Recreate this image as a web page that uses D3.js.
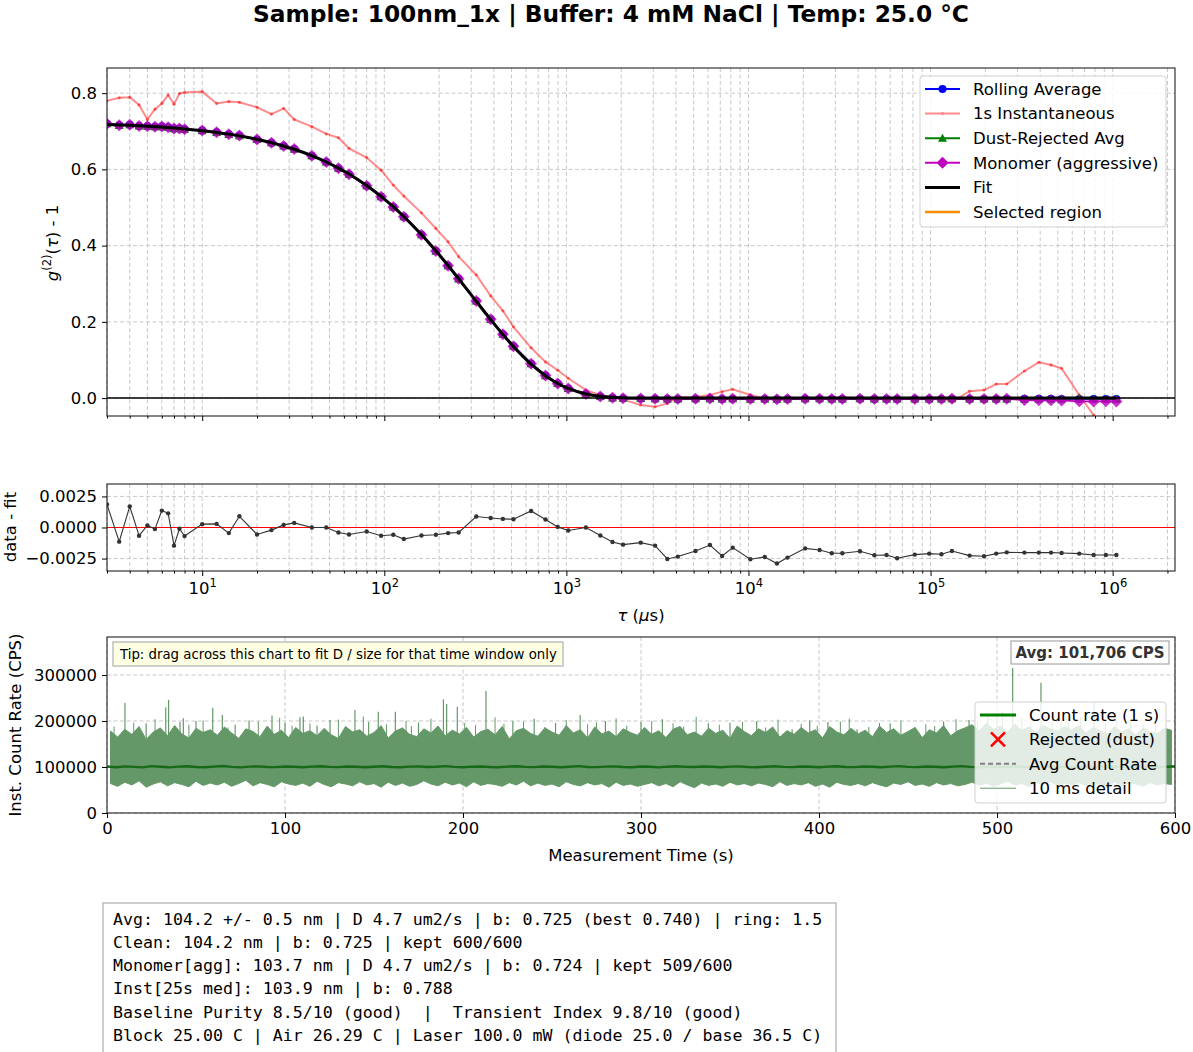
<!DOCTYPE html>
<html>
<head>
<meta charset="utf-8">
<script src="https://cdn.jsdelivr.net/npm/d3@7"></script>
<style>
body { margin: 0; background: #fff; }
</style>
</head>
<body>
<div id="chart"></div>
<script>
// ---- correlation data (lag times in microseconds) ----
var tau = [3,3.5,4,4.5,5,5.5,6,6.5,7,7.5,8,
  10,12,14,16, 20,24,28,32, 40,48,56,64, 80,96,112,128,
  160,192,224,256, 320,384,448,512, 640,768,896,1024,
  1280,1536,1792,2048, 2560,3072,3584,4096, 5120,6144,7168,8192,
  10240,12288,14336,16384, 20480,24576,28672,32768, 40960,49152,57344,65536,
  81920,98304,114688,131072, 163840,196608,229376,262144,
  327680,393216,458752,524288, 655360,786432,917504,1048576];

var fitVals = [0.7179,0.7167,0.7156,0.7144,0.7132,0.7120,0.7109,0.7097,0.7086,0.7074,0.7062,
  0.7016,0.6970,0.6925,0.6879, 0.6790,0.6701,0.6614,0.6528, 0.6359,0.6194,0.6034,0.5878, 0.5577,0.5292,0.5022,0.4765,
  0.4291,0.3863,0.3479,0.3132, 0.2539,0.2058,0.1669,0.1353, 0.0889,0.0585,0.0384,0.0253,
  0.0109,0.0047,0.0020,0.0009, 0.0002,0,0,0, 0,0,0,0, 0,0,0,0, 0,0,0,0, 0,0,0,0, 0,0,0,0, 0,0,0,0, 0,0,0,0, 0,0,0,0];

var rollingAvg = [0.7198,0.7156,0.7173,0.7137,0.7134,0.7119,0.7123,0.7108,0.7071,0.7073,0.7055,
  0.7019,0.6973,0.6920,0.6888, 0.6784,0.6699,0.6616,0.6532, 0.6359,0.6194,0.6030,0.5872, 0.5574,0.5285,0.5016,0.4756,
  0.4285,0.3857,0.3474,0.3128, 0.2548,0.2066,0.1676,0.1360, 0.0902,0.0591,0.0385,0.0251,
  0.0109,0.0041,0.0008,-0.0005, -0.0010,-0.0015,-0.0025,-0.0023, -0.0019,-0.0014,-0.0023,-0.0016,
  -0.0026,-0.0024,-0.0029,-0.0024, -0.0017,-0.0018,-0.0021,-0.0021, -0.0019,-0.0022,-0.0022,-0.0025,
  -0.0022,-0.0021,-0.0022,-0.0019, -0.0023,-0.0023,-0.0021,-0.0020, -0.0020,-0.0020,-0.0020,-0.0021, -0.0021,-0.0022,-0.0022,-0.0022];

var dustRejected = [0.7197,0.7157,0.7172,0.7138,0.7133,0.7120,0.7122,0.7108,0.7072,0.7073,0.7056,
  0.7019,0.6972,0.6921,0.6887, 0.6784,0.6700,0.6616,0.6531, 0.6359,0.6194,0.6031,0.5872, 0.5574,0.5286,0.5016,0.4757,
  0.4285,0.3857,0.3474,0.3128, 0.2547,0.2066,0.1676,0.1361, 0.0902,0.0591,0.0385,0.0251,
  0.0108,0.0041,0.0008,-0.0004, -0.0010,-0.0014,-0.0024,-0.0022, -0.0018,-0.0013,-0.0022,-0.0015,
  -0.0025,-0.0023,-0.0028,-0.0023, -0.0016,-0.0017,-0.0020,-0.0020, -0.0018,-0.0021,-0.0021,-0.0024,
  -0.0021,-0.0020,-0.0021,-0.0018, -0.0022,-0.0022,-0.0020,-0.0019, -0.0019,-0.0019,-0.0019,-0.0020, 0.0004,-0.0021,-0.0021,-0.0021];

var monomerAgg = [0.7198,0.7156,0.7173,0.7137,0.7134,0.7119,0.7123,0.7108,0.7071,0.7073,0.7055,
  0.7019,0.6973,0.6920,0.6888, 0.6784,0.6699,0.6616,0.6532, 0.6359,0.6194,0.6030,0.5872, 0.5574,0.5285,0.5016,0.4756,
  0.4285,0.3857,0.3474,0.3128, 0.2548,0.2066,0.1676,0.1360, 0.0902,0.0591,0.0385,0.0251,
  0.0109,0.0041,0.0008,-0.0005, -0.0010,-0.0015,-0.0025,-0.0023, -0.0019,-0.0014,-0.0023,-0.0016,
  -0.0026,-0.0024,-0.0029,-0.0024, -0.0017,-0.0018,-0.0021,-0.0021, -0.0019,-0.0022,-0.0022,-0.0025,
  -0.0022,-0.0021,-0.0022,-0.0019, -0.0023,-0.0023,-0.0021,-0.0020, -0.0050,-0.0060,-0.0058,-0.0062, -0.0085,-0.0088,-0.0086,-0.0087];

var instant1s = [0.780,0.788,0.789,0.769,0.731,0.758,0.773,0.795,0.771,0.799,0.802,
  0.804,0.773,0.778,0.776, 0.763,0.745,0.760,0.731, 0.712,0.693,0.683,0.655, 0.631,0.598,0.559,0.530,
  0.486,0.445,0.410,0.371, 0.323,0.268,0.229,0.187, 0.132,0.095,0.073,0.052,
  0.021,0.008,0.002,-0.004, -0.018,-0.023,-0.014,0.002, 0.003,0.008,0.017,0.023,
  0.008,-0.001,-0.005,-0.003, 0.001,-0.002,0.000,0.002, -0.001,0.001,-0.003,0.000,
  -0.002,0.001,0.002,-0.010, 0.018,0.021,0.037,0.037, 0.071,0.094,0.087,0.078, 0.008,-0.045,-0.100,-0.140];

var residuals = [0.00186,-0.00114,0.0017,-0.00066,0.00016,-0.00013,0.00136,0.00114,-0.00146,-0.0001,-0.00069,
  0.00027,0.00029,-0.00045,0.0009, -0.00056,-0.00021,0.00021,0.00037, 0,0,-0.0004,-0.00056,
  -0.00032,-0.00066,-0.00058,-0.00093, -0.00064,-0.00058,-0.00045,-0.0004, 0.00088,0.00077,0.00069,0.00066,
  0.00133,0.00064,0.00005,-0.00024, 0,-0.00064,-0.00117,-0.00138, -0.00122,-0.00146,-0.00253,-0.00234,
  -0.00189,-0.00141,-0.00229,-0.00162, -0.00255,-0.00237,-0.0029,-0.00242, -0.00168,-0.00181,-0.00207,-0.00207,
  -0.00191,-0.00223,-0.00221,-0.00247, -0.00218,-0.0021,-0.00215,-0.00189, -0.00226,-0.00231,-0.0021,-0.002,
  -0.00202,-0.00202,-0.00202,-0.00205, -0.0021,-0.00221,-0.00221,-0.00221];

// ---- count rate data ----
var rateTime = d3.range(0, 601, 5);   // seconds, one value per 5 s
var rate1s = [100800, 99600, 101300, 100200, 99100, 101800, 100400, 99300, 100900, 101500,
  100100, 99500, 100700, 102100, 100300, 99200, 100800, 101400, 100000, 99700,
  101100, 100500, 99400, 100900, 101700, 100200, 99800, 101000, 100600, 99300,
  100400, 101600, 100100, 99600, 100800, 101300, 99900, 100500, 101900, 100300,
  99500, 100700, 101200, 100000, 99400, 100900, 101500, 100200, 99800, 101100,
  100600, 99300, 100400, 101800, 100100, 99700, 100800, 101400, 100000, 99500,
  101000, 100500, 99200, 100700, 101600, 100300, 99900, 101200, 100400, 99600,
  100900, 101300, 100100, 99400, 100600, 101700, 100200, 99800, 101000, 100500,
  99300, 100800, 101500, 100000, 99700, 101100, 100400, 99500, 100900, 102000,
  100300, 99800, 101200, 100600, 99400, 100700, 101800, 100200, 99600, 101000,
  100500, 99900, 101400, 100100, 99500, 100800, 101300, 100300, 99700, 101100,
  100600, 99400, 100900, 101500, 100200, 99800, 101000, 100400, 99600, 100700, 101100];
var avgRate = 101706;

// 10 ms detail envelope, 4 s bins (kCPS)
var detailTime = d3.range(2, 600, 4);
var detailHiK = [178,165,182,171,188,160,176,185,168,190,172,163,184,175,181,
  169,187,174,162,183,177,166,189,171,180,164,186,173,179,168,
  184,170,162,188,176,181,167,175,190,163,178,185,171,166,183,
  174,189,168,180,172,186,165,177,182,170,188,161,179,184,173,
  167,185,176,169,190,174,181,163,187,172,178,166,183,175,169,
  186,171,179,164,182,188,170,176,167,184,173,180,162,189,177,
  168,183,175,187,165,179,171,186,174,181,163,188,176,170,184,
  172,180,166,189,175,183,169,177,186,164,181,174,190,168,179,
  185,192,178,195,182,189,176,193,180,187,175,191,183,178,188,
  181,190,174,186,179,171,188,176,183,169,185,177,172,184,180];
var detailLoK = [64,58,67,61,70,56,63,68,59,66,62,57,69,60,65,
  61,67,58,64,71,59,66,62,57,68,63,60,65,58,69,
  62,57,66,63,59,68,61,64,56,67,60,65,58,62,70,
  63,59,67,61,65,57,68,60,64,62,58,66,61,69,59,
  65,60,63,57,68,62,59,66,61,64,56,67,60,63,58,
  62,66,59,64,57,68,61,55,65,60,63,58,67,61,64,
  59,65,62,57,68,60,64,61,66,58,63,56,67,62,60,
  64,59,66,61,57,65,62,68,60,63,58,66,61,64,59,
  62,67,60,65,58,63,69,61,64,57,66,62,68,60,65,
  61,66,59,64,62,57,67,60,65,63,58,66,61,64,62];
// tall bursts in the 10 ms trace (s, kCPS)
var spikeTime = [10.1,22,33.0,34.6,41.0,42.9,50,59.4,64.8,72,79.8,92.7,100,108.4,110.3,118,125.3,139.3,147,152.4,
  162,175,189,190.8,196.8,212.9,228,240,252,265.8,280,300,312,337.8,350,365,384.9,394.8,405,421.4,
  440,453.7,470,484.3,495,508.8,524.7,540,554.6,575,595.8];
var spikeK = [239,195,230,246,198,206,200,229,213,192,201,212,196,208,210,190,202,224,198,220,
  220,197,247,237,231,265,200,205,196,213,200,198,204,195,196,200,182,201,198,182,
  195,186,199,202,210,315,283,205,241,196,182];
// smaller hairs above the dense band (s, kCPS)
var hairTime = [4,15,27,46,54,68,85,97,104,114,130,134,144,157,168,171,182,201,207,218,
  223,234,246,258,270,275,286,292,306,318,324,331,344,357,370,377,390,399,412,417,
  428,434,446,460,465,477,489,500,503,514,519,531,536,547,561,567,582,589];
var hairK = [188,196,204,192,201,186,199,207,190,195,203,188,210,193,200,189,205,196,191,208,
  194,199,187,202,193,197,206,190,200,195,188,209,192,198,186,203,194,190,199,205,
  187,196,201,193,189,204,198,212,220,207,199,214,201,209,197,203,192,200];

var tauTicks = [10, 100, 1000, 10000, 100000, 1000000];
var topYTicks = [0, 0.2, 0.4, 0.6, 0.8];
var resYTicks = [-0.0025, 0, 0.0025];
var timeTicks = [0, 100, 200, 300, 400, 500, 600];
var rateTicks = [0, 100000, 200000, 300000];

var statLines = [
  "Avg: 104.2 +/- 0.5 nm | D 4.7 um2/s | b: 0.725 (best 0.740) | ring: 1.5",
  "Clean: 104.2 nm | b: 0.725 | kept 600/600",
  "Monomer[agg]: 103.7 nm | D 4.7 um2/s | b: 0.724 | kept 509/600",
  "Inst[25s med]: 103.9 nm | b: 0.788",
  "Baseline Purity 8.5/10 (good)  |  Transient Index 9.8/10 (good)",
  "Block 25.00 C | Air 26.29 C | Laser 100.0 mW (diode 25.0 / base 36.5 C)"
];

// ---- layout ----
var W = 1193, H = 1052;
var left = 107, right = 1175;
var top1 = 68, bot1 = 416, top2 = 484, bot2 = 571, top3 = 637, bot3 = 813;
var FS = "16.5px";
var SANS = "DejaVu Sans, sans-serif";

var svg = d3.select("#chart").append("svg")
  .attr("width", W).attr("height", H)
  .attr("font-family", SANS);
svg.append("rect").attr("width", W).attr("height", H).attr("fill", "#fff");

var x = d3.scaleLog().domain([3, 2.2e6]).range([left, right]);
var yTop = d3.scaleLinear().domain([-0.047, 0.866]).range([bot1, top1]);
var yRes = d3.scaleLinear().domain([-0.0035, 0.0035]).range([bot2, top2]);
var xTime = d3.scaleLinear().domain([0, 600]).range([left, right]);
var yRate = d3.scaleLinear().domain([0, 382600]).range([bot3, top3]);

// minor log ticks inside the domain
var minorTicks = [];
[1, 10, 100, 1000, 10000, 100000, 1000000].forEach(function(dec) {
  for (var m = 2; m <= 9; m++) {
    var v = dec * m;
    if (v >= 3 && v <= 2.2e6) minorTicks.push(v);
  }
});
var allLogTicks = minorTicks.concat(tauTicks);

function clip(id, y0, y1) {
  svg.append("clipPath").attr("id", id).append("rect")
    .attr("x", left).attr("y", y0).attr("width", right - left).attr("height", y1 - y0);
}
clip("c1", top1, bot1);
clip("c2", top2, bot2);
clip("c3", top3, bot3);

function gridV(vals, scale, y0, y1) {
  svg.append("g").selectAll("line").data(vals).enter().append("line")
    .attr("x1", function(d) { return scale(d); }).attr("x2", function(d) { return scale(d); })
    .attr("y1", y0).attr("y2", y1)
    .attr("stroke", "#c8c8c8").attr("stroke-width", 1).attr("stroke-dasharray", "4,2.5");
}
function gridH(vals, scale) {
  svg.append("g").selectAll("line").data(vals).enter().append("line")
    .attr("x1", left).attr("x2", right)
    .attr("y1", function(d) { return scale(d); }).attr("y2", function(d) { return scale(d); })
    .attr("stroke", "#c8c8c8").attr("stroke-width", 1).attr("stroke-dasharray", "4,2.5");
}

function styleAxis(g) {
  g.select(".domain").remove();
  g.attr("font-family", SANS).attr("font-size", FS);
  g.selectAll(".tick line").attr("stroke", "#000").attr("stroke-width", 1);
  g.selectAll(".tick text").attr("fill", "#000");
}

function frame(y0, y1) {
  svg.append("rect").attr("x", left).attr("y", y0).attr("width", right - left).attr("height", y1 - y0)
    .attr("fill", "none").attr("stroke", "#222").attr("stroke-width", 1.1);
}

// ===== panel 1: correlation =====
gridV(allLogTicks, x, top1, bot1);
gridH(topYTicks, yTop);

var p1 = svg.append("g").attr("clip-path", "url(#c1)");
var lineTop = function(vals) {
  return d3.line().x(function(d, i) { return x(tau[i]); }).y(function(d) { return yTop(d); })(vals);
};

function markers(g, vals, kind, color, size, opacity) {
  var sel = g.append("g").attr("fill", color).attr("opacity", opacity);
  vals.forEach(function(v, i) {
    var cx = x(tau[i]), cy = yTop(v);
    if (kind === "circle") {
      sel.append("circle").attr("cx", cx).attr("cy", cy).attr("r", size);
    } else if (kind === "tri") {
      sel.append("path").attr("d", "M" + cx + "," + (cy - size) + "L" + (cx + size) + "," + (cy + size * 0.8) + "L" + (cx - size) + "," + (cy + size * 0.8) + "Z");
    } else if (kind === "diamond") {
      sel.append("path").attr("d", "M" + cx + "," + (cy - size) + "L" + (cx + size) + "," + cy + "L" + cx + "," + (cy + size) + "L" + (cx - size) + "," + cy + "Z");
    }
  });
}

// rolling average
p1.append("path").attr("d", lineTop(rollingAvg)).attr("fill", "none").attr("stroke", "#0000ff").attr("stroke-width", 1.8);
markers(p1, rollingAvg, "circle", "#0000ff", 4, 1);
// 1 s instantaneous
p1.append("path").attr("d", lineTop(instant1s)).attr("fill", "none").attr("stroke", "#ff0000").attr("stroke-opacity", 0.45).attr("stroke-width", 2);
markers(p1, instant1s, "circle", "#ff0000", 1.6, 0.5);
// dust rejected
p1.append("path").attr("d", lineTop(dustRejected)).attr("fill", "none").attr("stroke", "#008000").attr("stroke-width", 1.8);
markers(p1, dustRejected, "tri", "#008000", 4.5, 1);
// monomer
p1.append("path").attr("d", lineTop(monomerAgg)).attr("fill", "none").attr("stroke", "#bf00bf").attr("stroke-width", 1.8);
markers(p1, monomerAgg, "diamond", "#bf00bf", 6, 0.8);
// fit
p1.append("path")
  .attr("d", d3.line().curve(d3.curveMonotoneX)
    .x(function(d, i) { return x(tau[i]); }).y(function(d) { return yTop(d); })(fitVals))
  .attr("fill", "none").attr("stroke", "#000").attr("stroke-width", 3);
// zero line
p1.append("line").attr("x1", left).attr("x2", right).attr("y1", yTop(0)).attr("y2", yTop(0))
  .attr("stroke", "#000").attr("stroke-width", 1.5);

frame(top1, bot1);

svg.append("g").attr("transform", "translate(" + left + ",0)")
  .call(d3.axisLeft(yTop).tickValues(topYTicks).tickSize(5).tickPadding(5).tickFormat(d3.format(".1f")))
  .call(styleAxis);
svg.append("g").attr("transform", "translate(0," + bot1 + ")")
  .call(d3.axisBottom(x).tickValues(tauTicks).tickSize(5).tickFormat(""))
  .call(styleAxis);
svg.append("g").attr("transform", "translate(0," + bot1 + ")")
  .call(d3.axisBottom(x).tickValues(minorTicks).tickSize(2.5).tickFormat(""))
  .call(styleAxis);

// y label g^(2)(tau) - 1
var yl1 = svg.append("text").attr("transform", "translate(58,243) rotate(-90)")
  .attr("text-anchor", "middle").attr("font-size", FS);
yl1.append("tspan").attr("font-style", "italic").text("g");
yl1.append("tspan").attr("dy", -7).attr("font-size", "11.5px").text("(2)");
yl1.append("tspan").attr("dy", 7).text("(");
yl1.append("tspan").attr("font-style", "italic").text("τ");
yl1.append("tspan").text(") - 1");

// legend (panel 1)
var leg1 = svg.append("g");
leg1.append("rect").attr("x", 920).attr("y", 76).attr("width", 246).attr("height", 151).attr("rx", 3)
  .attr("fill", "#fff").attr("fill-opacity", 0.85).attr("stroke", "#d0d0d0");
var leg1Items = [
  {label: "Rolling Average", color: "#0000ff", kind: "circle", op: 1, lw: 2},
  {label: "1s Instantaneous", color: "#ff0000", kind: "dot", op: 0.45, lw: 2},
  {label: "Dust-Rejected Avg", color: "#008000", kind: "tri", op: 1, lw: 2},
  {label: "Monomer (aggressive)", color: "#bf00bf", kind: "diamond", op: 1, lw: 2},
  {label: "Fit", color: "#000", kind: "none", op: 1, lw: 3},
  {label: "Selected region", color: "#ff8c00", kind: "none", op: 1, lw: 2.4}
];
leg1Items.forEach(function(it, i) {
  var yy = 89 + i * 24.6;
  var g = leg1.append("g").attr("opacity", it.op);
  g.append("line").attr("x1", 925).attr("x2", 960).attr("y1", yy).attr("y2", yy)
    .attr("stroke", it.color).attr("stroke-width", it.lw);
  var cx = 942.5;
  if (it.kind === "circle") g.append("circle").attr("cx", cx).attr("cy", yy).attr("r", 4).attr("fill", it.color);
  if (it.kind === "dot") g.append("circle").attr("cx", cx).attr("cy", yy).attr("r", 1.6).attr("fill", it.color);
  if (it.kind === "tri") g.append("path").attr("d", "M" + cx + "," + (yy - 4.5) + "L" + (cx + 4.5) + "," + (yy + 3.6) + "L" + (cx - 4.5) + "," + (yy + 3.6) + "Z").attr("fill", it.color);
  if (it.kind === "diamond") g.append("path").attr("d", "M" + cx + "," + (yy - 6) + "L" + (cx + 6) + "," + yy + "L" + cx + "," + (yy + 6) + "L" + (cx - 6) + "," + yy + "Z").attr("fill", it.color);
  leg1.append("text").attr("x", 973).attr("y", yy).attr("dy", "0.35em").attr("font-size", FS).text(it.label);
});

// ===== panel 2: residuals =====
gridV(allLogTicks, x, top2, bot2);
gridH(resYTicks, yRes);
var p2 = svg.append("g").attr("clip-path", "url(#c2)");
p2.append("line").attr("x1", left).attr("x2", right).attr("y1", yRes(0)).attr("y2", yRes(0))
  .attr("stroke", "#ff0000").attr("stroke-width", 1);
p2.append("path")
  .attr("d", d3.line().x(function(d, i) { return x(tau[i]); }).y(function(d) { return yRes(d); })(residuals))
  .attr("fill", "none").attr("stroke", "#333").attr("stroke-width", 1.1);
p2.append("g").selectAll("circle").data(residuals).enter().append("circle")
  .attr("cx", function(d, i) { return x(tau[i]); }).attr("cy", function(d) { return yRes(d); })
  .attr("r", 2.2).attr("fill", "#333");
frame(top2, bot2);

svg.append("g").attr("transform", "translate(" + left + ",0)")
  .call(d3.axisLeft(yRes).tickValues(resYTicks).tickSize(5).tickPadding(5)
    .tickFormat(function(d) { return d3.format(".4f")(d).replace("-", "\u2212"); }))
  .call(styleAxis);
var xa2 = svg.append("g").attr("transform", "translate(0," + bot2 + ")")
  .call(d3.axisBottom(x).tickValues(tauTicks).tickSize(5).tickPadding(6).tickFormat(function(d) { return d; }))
  .call(styleAxis);
xa2.selectAll(".tick text").each(function(d) {
  var t = d3.select(this);
  var e = Math.round(Math.log10(d));
  t.text("10");
  t.append("tspan").attr("dy", "-0.55em").attr("font-size", "11.5px").text(e);
});
svg.append("g").attr("transform", "translate(0," + bot2 + ")")
  .call(d3.axisBottom(x).tickValues(minorTicks).tickSize(2.5).tickFormat(""))
  .call(styleAxis);

svg.append("text").attr("transform", "translate(16,527) rotate(-90)")
  .attr("text-anchor", "middle").attr("font-size", FS).text("data - fit");
var xl2 = svg.append("text").attr("x", 641).attr("y", 621).attr("text-anchor", "middle").attr("font-size", FS);
xl2.append("tspan").attr("font-style", "italic").text("τ");
xl2.append("tspan").text(" (");
xl2.append("tspan").attr("font-style", "italic").text("μ");
xl2.append("tspan").text("s)");

// ===== panel 3: count rate =====
gridV(timeTicks, xTime, top3, bot3);
gridH(rateTicks, yRate);
var p3 = svg.append("g").attr("clip-path", "url(#c3)");
var detailColor = "#649868";
p3.append("path")
  .attr("d", d3.area()
    .x(function(d, i) { return xTime(detailTime[i]); })
    .y0(function(d, i) { return yRate(detailLoK[i] * 1000); })
    .y1(function(d) { return yRate(d * 1000); })(detailHiK))
  .attr("fill", detailColor).attr("stroke", detailColor).attr("stroke-width", 1);
p3.append("g").selectAll("line").data(hairK).enter().append("line")
  .attr("x1", function(d, i) { return xTime(hairTime[i]); })
  .attr("x2", function(d, i) { return xTime(hairTime[i]); })
  .attr("y1", yRate(150000))
  .attr("y2", function(d) { return yRate(d * 1000); })
  .attr("stroke", detailColor).attr("stroke-width", 1);
p3.append("g").selectAll("line").data(spikeK).enter().append("line")
  .attr("x1", function(d, i) { return xTime(spikeTime[i]); })
  .attr("x2", function(d, i) { return xTime(spikeTime[i]); })
  .attr("y1", yRate(150000))
  .attr("y2", function(d) { return yRate(d * 1000); })
  .attr("stroke", detailColor).attr("stroke-width", 1.2);
p3.append("line").attr("x1", left).attr("x2", right).attr("y1", yRate(avgRate)).attr("y2", yRate(avgRate))
  .attr("stroke", "#808080").attr("stroke-width", 1.5).attr("stroke-dasharray", "5,3");
p3.append("path")
  .attr("d", d3.line().x(function(d, i) { return xTime(rateTime[i]); }).y(function(d) { return yRate(d); })(rate1s))
  .attr("fill", "none").attr("stroke", "#146a16").attr("stroke-width", 2.4);
frame(top3, bot3);

svg.append("g").attr("transform", "translate(" + left + ",0)")
  .call(d3.axisLeft(yRate).tickValues(rateTicks).tickSize(5).tickPadding(5).tickFormat(d3.format("d")))
  .call(styleAxis);
svg.append("g").attr("transform", "translate(0," + bot3 + ")")
  .call(d3.axisBottom(xTime).tickValues(timeTicks).tickSize(5).tickPadding(4).tickFormat(d3.format("d")))
  .call(styleAxis);

svg.append("text").attr("transform", "translate(21,725) rotate(-90)")
  .attr("text-anchor", "middle").attr("font-size", FS).text("Inst. Count Rate (CPS)");
svg.append("text").attr("x", 641).attr("y", 861).attr("text-anchor", "middle").attr("font-size", FS)
  .text("Measurement Time (s)");

// tip box
svg.append("rect").attr("x", 113).attr("y", 642).attr("width", 450).attr("height", 24)
  .attr("fill", "#ffffe3").attr("stroke", "#b0b0b0").attr("stroke-width", 1.2);
svg.append("text").attr("x", 120).attr("y", 654).attr("dy", "0.35em").attr("font-size", "13.3px")
  .text("Tip: drag across this chart to fit D / size for that time window only");

// avg box
svg.append("rect").attr("x", 1011).attr("y", 641).attr("width", 158).attr("height", 23)
  .attr("fill", "#fff").attr("stroke", "#a8a8a8").attr("stroke-width", 1.2);
svg.append("text").attr("x", 1090).attr("y", 652.5).attr("dy", "0.35em").attr("text-anchor", "middle")
  .attr("font-size", "15px").attr("font-weight", "bold").attr("fill", "#333").text("Avg: 101,706 CPS");

// legend (panel 3)
var leg3 = svg.append("g");
leg3.append("rect").attr("x", 975).attr("y", 702).attr("width", 191).attr("height", 101).attr("rx", 3)
  .attr("fill", "#fff").attr("fill-opacity", 0.82).attr("stroke", "#d0d0d0");
var leg3Items = ["Count rate (1 s)", "Rejected (dust)", "Avg Count Rate", "10 ms detail"];
leg3Items.forEach(function(lbl, i) {
  var yy = 715 + i * 24.4;
  if (i === 0) leg3.append("line").attr("x1", 980).attr("x2", 1016).attr("y1", yy).attr("y2", yy)
    .attr("stroke", "#008000").attr("stroke-width", 3);
  if (i === 1) {
    leg3.append("path").attr("d", "M991," + (yy - 7) + "L1005," + (yy + 7) + "M1005," + (yy - 7) + "L991," + (yy + 7))
      .attr("stroke", "#ff0000").attr("stroke-width", 2.6);
  }
  if (i === 2) leg3.append("line").attr("x1", 980).attr("x2", 1016).attr("y1", yy).attr("y2", yy)
    .attr("stroke", "#808080").attr("stroke-width", 2).attr("stroke-dasharray", "5,3");
  if (i === 3) leg3.append("line").attr("x1", 980).attr("x2", 1016).attr("y1", yy).attr("y2", yy)
    .attr("stroke", detailColor).attr("stroke-width", 1);
  leg3.append("text").attr("x", 1029).attr("y", yy).attr("dy", "0.35em").attr("font-size", FS).text(lbl);
});

// title
svg.append("text").attr("x", 611).attr("y", 14).attr("dy", "0.35em").attr("text-anchor", "middle")
  .attr("font-size", "23.3px").attr("font-weight", "bold")
  .text("Sample: 100nm_1x | Buffer: 4 mM NaCl | Temp: 25.0 °C");

// stats box
svg.append("rect").attr("x", 103).attr("y", 903).attr("width", 733).attr("height", 160)
  .attr("fill", "#fff").attr("stroke", "#bdbdbd").attr("stroke-width", 1.5);
statLines.forEach(function(s, i) {
  svg.append("text").attr("x", 113).attr("y", 919 + i * 23.2).attr("dy", "0.35em")
    .attr("font-family", "DejaVu Sans Mono, monospace").attr("font-size", "16.6px")
    .attr("xml:space", "preserve").style("white-space", "pre").text(s);
});
</script>
</body>
</html>
